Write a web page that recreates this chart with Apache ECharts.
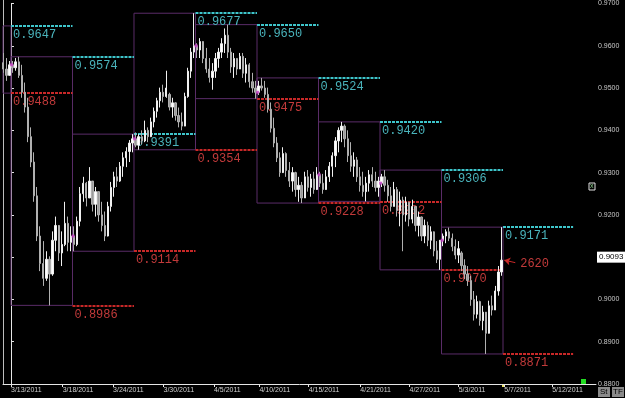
<!DOCTYPE html>
<html>
<head>
<meta charset="utf-8">
<script src="https://cdn.jsdelivr.net/npm/echarts@6/dist/echarts.min.js"></script>
<style>
  html, body { margin: 0; padding: 0; background: #000; }
  #chart { width: 625px; height: 398px; }
</style>
</head>
<body>
<div id="chart"></div>
<script>
// USD/CHF style weekly sessions, bars are [open, close, low, high]
// 20 bars a week; the first week is only partly on screen
const wk0306 = [
  [0.9545, 0.9560, 0.9527, 0.9569], [0.9560, 0.9545, 0.9536, 0.9583],
  [0.9545, 0.9530, 0.9517, 0.9571], [0.9530, 0.9555, 0.9531, 0.9564],
];
const wk0313 = [
  [0.9555, 0.9548, 0.9536, 0.9564], [0.9548, 0.9562, 0.9541, 0.9571],
  [0.9562, 0.9530, 0.9524, 0.9574], [0.9530, 0.9490, 0.9477, 0.9555],
  [0.9490, 0.9455, 0.9442, 0.9513], [0.9455, 0.9385, 0.9372, 0.9477],
  [0.9385, 0.9325, 0.9313, 0.9407], [0.9325, 0.9245, 0.9231, 0.9348],
  [0.9245, 0.9150, 0.9138, 0.9266], [0.9150, 0.9085, 0.9067, 0.9173],
  [0.9085, 0.9050, 0.9032, 0.9138], [0.9050, 0.9095, 0.9044, 0.9114],
  [0.9095, 0.9060, 0.8986, 0.9102], [0.9060, 0.9140, 0.9056, 0.9161],
  [0.9140, 0.9175, 0.9114, 0.9196], [0.9175, 0.9110, 0.9091, 0.9173],
  [0.9110, 0.9130, 0.9079, 0.9161], [0.9130, 0.9180, 0.9126, 0.9231],
  [0.9180, 0.9135, 0.9114, 0.9196], [0.9135, 0.9150, 0.9114, 0.9173],
];
const wk0320 = [
  [0.9150, 0.9130, 0.9114, 0.9173], [0.9130, 0.9185, 0.9126, 0.9196],
  [0.9185, 0.9250, 0.9173, 0.9266], [0.9250, 0.9275, 0.9231, 0.9290],
  [0.9275, 0.9240, 0.9220, 0.9278], [0.9240, 0.9280, 0.9243, 0.9313],
  [0.9280, 0.9225, 0.9208, 0.9278], [0.9225, 0.9255, 0.9196, 0.9266],
  [0.9255, 0.9200, 0.9184, 0.9255], [0.9200, 0.9175, 0.9161, 0.9231],
  [0.9175, 0.9150, 0.9138, 0.9208], [0.9150, 0.9220, 0.9149, 0.9231],
  [0.9220, 0.9265, 0.9208, 0.9278], [0.9265, 0.9290, 0.9243, 0.9302],
  [0.9290, 0.9280, 0.9266, 0.9313], [0.9280, 0.9315, 0.9278, 0.9325],
  [0.9315, 0.9335, 0.9290, 0.9348], [0.9335, 0.9350, 0.9313, 0.9360],
  [0.9350, 0.9370, 0.9325, 0.9377], [0.9370, 0.9380, 0.9348, 0.9391],
];
const wk0327 = [
  [0.9380, 0.9365, 0.9360, 0.9395], [0.9365, 0.9385, 0.9354, 0.9391],
  [0.9385, 0.9375, 0.9367, 0.9400], [0.9375, 0.9400, 0.9372, 0.9423],
  [0.9400, 0.9385, 0.9372, 0.9407], [0.9385, 0.9420, 0.9384, 0.9430],
  [0.9420, 0.9445, 0.9407, 0.9454], [0.9445, 0.9470, 0.9430, 0.9477],
  [0.9470, 0.9490, 0.9454, 0.9501], [0.9490, 0.9480, 0.9466, 0.9508],
  [0.9480, 0.9500, 0.9477, 0.9541], [0.9485, 0.9455, 0.9447, 0.9489],
  [0.9455, 0.9465, 0.9430, 0.9477], [0.9465, 0.9435, 0.9423, 0.9466],
  [0.9435, 0.9420, 0.9407, 0.9454], [0.9420, 0.9410, 0.9400, 0.9442],
  [0.9410, 0.9480, 0.9419, 0.9489], [0.9480, 0.9540, 0.9477, 0.9548],
  [0.9540, 0.9585, 0.9524, 0.9595], [0.9585, 0.9600, 0.9571, 0.9677],
];
const wk0403 = [
  [0.9600, 0.9590, 0.9571, 0.9606], [0.9590, 0.9610, 0.9571, 0.9618],
  [0.9610, 0.9570, 0.9559, 0.9606], [0.9570, 0.9545, 0.9536, 0.9595],
  [0.9545, 0.9525, 0.9513, 0.9571], [0.9525, 0.9540, 0.9496, 0.9559],
  [0.9540, 0.9570, 0.9524, 0.9583], [0.9570, 0.9585, 0.9548, 0.9595],
  [0.9585, 0.9605, 0.9571, 0.9618], [0.9605, 0.9625, 0.9583, 0.9641],
  [0.9625, 0.9585, 0.9571, 0.9650], [0.9585, 0.9550, 0.9536, 0.9595],
  [0.9550, 0.9570, 0.9524, 0.9583], [0.9570, 0.9545, 0.9531, 0.9571],
  [0.9545, 0.9575, 0.9548, 0.9583], [0.9575, 0.9535, 0.9524, 0.9583],
  [0.9535, 0.9555, 0.9513, 0.9571], [0.9555, 0.9515, 0.9501, 0.9559],
  [0.9515, 0.9500, 0.9489, 0.9536], [0.9500, 0.9490, 0.9475, 0.9517],
];
const wk0410 = [
  [0.9490, 0.9505, 0.9484, 0.9517], [0.9505, 0.9500, 0.9494, 0.9524],
  [0.9500, 0.9485, 0.9477, 0.9517], [0.9485, 0.9450, 0.9442, 0.9501],
  [0.9450, 0.9405, 0.9395, 0.9466], [0.9405, 0.9370, 0.9360, 0.9430],
  [0.9370, 0.9335, 0.9325, 0.9384], [0.9335, 0.9300, 0.9290, 0.9348],
  [0.9300, 0.9345, 0.9313, 0.9360], [0.9345, 0.9305, 0.9290, 0.9348],
  [0.9305, 0.9280, 0.9266, 0.9325], [0.9280, 0.9300, 0.9255, 0.9313],
  [0.9300, 0.9260, 0.9243, 0.9302], [0.9260, 0.9270, 0.9231, 0.9290],
  [0.9270, 0.9240, 0.9228, 0.9278], [0.9240, 0.9290, 0.9243, 0.9302],
  [0.9290, 0.9265, 0.9255, 0.9306], [0.9265, 0.9285, 0.9243, 0.9297],
  [0.9285, 0.9260, 0.9250, 0.9302], [0.9260, 0.9295, 0.9266, 0.9313],
];
const wk0417 = [
  [0.9295, 0.9275, 0.9266, 0.9302], [0.9275, 0.9260, 0.9250, 0.9297],
  [0.9260, 0.9290, 0.9259, 0.9306], [0.9290, 0.9315, 0.9278, 0.9325],
  [0.9315, 0.9340, 0.9290, 0.9348], [0.9340, 0.9375, 0.9313, 0.9384],
  [0.9375, 0.9400, 0.9348, 0.9407], [0.9400, 0.9410, 0.9372, 0.9420],
  [0.9410, 0.9380, 0.9360, 0.9414], [0.9380, 0.9340, 0.9325, 0.9400],
  [0.9340, 0.9315, 0.9302, 0.9372], [0.9315, 0.9330, 0.9290, 0.9348],
  [0.9330, 0.9290, 0.9278, 0.9337], [0.9290, 0.9270, 0.9255, 0.9313],
  [0.9270, 0.9255, 0.9243, 0.9302], [0.9255, 0.9275, 0.9232, 0.9290],
  [0.9275, 0.9295, 0.9255, 0.9306], [0.9295, 0.9280, 0.9266, 0.9313],
  [0.9280, 0.9265, 0.9255, 0.9302], [0.9265, 0.9280, 0.9243, 0.9290],
];
const wk0424 = [
  [0.9275, 0.9290, 0.9266, 0.9297], [0.9290, 0.9270, 0.9255, 0.9306],
  [0.9270, 0.9245, 0.9231, 0.9283], [0.9245, 0.9220, 0.9208, 0.9266],
  [0.9220, 0.9260, 0.9220, 0.9278], [0.9260, 0.9210, 0.9196, 0.9266],
  [0.9210, 0.9235, 0.9173, 0.9255], [0.9235, 0.9200, 0.9114, 0.9243],
  [0.9200, 0.9230, 0.9184, 0.9243], [0.9230, 0.9190, 0.9173, 0.9231],
  [0.9190, 0.9220, 0.9180, 0.9236], [0.9220, 0.9175, 0.9161, 0.9220],
  [0.9175, 0.9195, 0.9149, 0.9208], [0.9195, 0.9150, 0.9138, 0.9196],
  [0.9150, 0.9175, 0.9133, 0.9189], [0.9175, 0.9140, 0.9126, 0.9184],
  [0.9140, 0.9160, 0.9119, 0.9173], [0.9160, 0.9115, 0.9102, 0.9161],
  [0.9115, 0.9095, 0.9086, 0.9138], [0.9095, 0.9140, 0.9070, 0.9126],
];
const wk0501 = [
  [0.9140, 0.9150, 0.9126, 0.9156], [0.9150, 0.9160, 0.9133, 0.9166],
  [0.9160, 0.9145, 0.9138, 0.9170], [0.9145, 0.9125, 0.9114, 0.9156],
  [0.9125, 0.9105, 0.9095, 0.9142], [0.9105, 0.9120, 0.9086, 0.9138],
  [0.9110, 0.9080, 0.9067, 0.9114], [0.9080, 0.9060, 0.9048, 0.9095],
  [0.9060, 0.9045, 0.9032, 0.9079], [0.9045, 0.9000, 0.8985, 0.9056],
  [0.9000, 0.8965, 0.8950, 0.9020], [0.8965, 0.8995, 0.8955, 0.9009],
  [0.8995, 0.8950, 0.8938, 0.8997], [0.8950, 0.8970, 0.8927, 0.8985],
  [0.8970, 0.8920, 0.8871, 0.8962], [0.8920, 0.8985, 0.8927, 0.8997],
  [0.8985, 0.8975, 0.8962, 0.9009], [0.8975, 0.9020, 0.8985, 0.9032],
  [0.9020, 0.9065, 0.9009, 0.9079], [0.9065, 0.9093, 0.9056, 0.9171],
];

// weekly high / low boxes, one per week above
const weekHigh = [0.9647, 0.9574, 0.9391, 0.9677, 0.9650, 0.9524, 0.9420, 0.9306, 0.9171];
const weekLow = [0.9488, 0.8986, 0.9114, 0.9354, 0.9475, 0.9228, 0.9232, 0.9070, 0.8871];
// levels of the week before the first one (only a stub is visible)
const priorHigh = 0.9590;
const priorLow = 0.9497;

// x is counted in trading days, 0 = open of 3/13/2011
const tickAt = [0, 4.2, 8.3, 12.4, 16.5, 20.2, 24.2, 28.4, 32.4, 36.4, 40.1, 44.0];
const tickLabels = ['3/13/2011', '3/18/2011', '3/24/2011', '3/30/2011', '4/5/2011', '4/10/2011',
  '4/15/2011', '4/21/2011', '4/27/2011', '5/3/2011', '5/7/2011', '5/12/2011'];

const lastClose = 0.9093;
const arrowNote = '2620';

const weeks = [wk0306, wk0313, wk0320, wk0327, wk0403, wk0410, wk0417, wk0424, wk0501];
const BARS = 20;
const DAYS = 5;

const candles = [];
const opens = [];
weeks.forEach((bars, w) => {
  const first = BARS - bars.length;
  bars.forEach((b, i) => {
    const x = (w - 1) * DAYS + (first + i + 0.5) * (DAYS / BARS);
    candles.push([x, b[0], b[1], b[2], b[3]]);
  });
  if (w > 0) opens.push([(w - 1) * DAYS + 0.05, bars[0][0]]);
});

const CYAN = '#3ec6cc';
const CYAN_TXT = '#4ab4bc';
const RED = '#c82828';
const RED_TXT = '#c23a3a';
const BOX = '#5a2c68';

const boxes = weeks.map((_, w) => [
  { coord: [(w - 1) * DAYS, weekHigh[w]] },
  { coord: [w * DAYS, weekLow[w]] },
]);

function level(x0, x1, v, color, txt, showLabel) {
  return [
    {
      name: v.toFixed(4),
      coord: [x0, v],
      lineStyle: { color, width: 2, type: [3, 1] },
      label: { show: showLabel, color: txt },
    },
    { coord: [x1, v] },
  ];
}

const levels = [
  level(-DAYS, 0, priorHigh, CYAN, CYAN_TXT, false),
  level(-DAYS, 0, priorLow, RED, RED_TXT, false),
];
weeks.forEach((_, w) => {
  const x0 = w * DAYS;
  const x1 = w === weeks.length - 1 ? x0 + 5.7 : x0 + DAYS;
  levels.push(level(x0, x1, weekHigh[w], CYAN, CYAN_TXT, true));
  levels.push(level(x0, x1, weekLow[w], RED, RED_TXT, true));
});

const chart = echarts.init(document.getElementById('chart'));

const option = {
  backgroundColor: '#000',
  animation: false,
  grid: { left: 3, right: 29, top: 0, bottom: 14 },
  xAxis: {
    type: 'value',
    min: -0.65,
    max: 47.56,
    splitLine: { show: false },
    axisLine: { lineStyle: { color: '#e6e6e6', width: 1 } },
    axisTick: { customValues: tickAt, length: 3, lineStyle: { color: '#e6e6e6' } },
    axisLabel: {
      customValues: tickAt,
      formatter: (v) => tickLabels[tickAt.indexOf(v)] || '',
      color: '#d0d0d0',
      fontSize: 7,
      fontFamily: 'Liberation Sans',
      align: 'left',
      margin: 3,
    },
  },
  yAxis: {
    type: 'value',
    position: 'right',
    min: 0.88,
    max: 0.97,
    interval: 0.01,
    splitLine: { show: false },
    axisLine: { show: true, lineStyle: { color: '#e6e6e6', width: 1 } },
    axisTick: { show: true, length: 3, lineStyle: { color: '#e6e6e6' } },
    axisLabel: {
      formatter: (v) => v.toFixed(4),
      color: '#c8c8c8',
      fontSize: 7,
      fontFamily: 'Liberation Sans',
      margin: 2,
    },
  },
  series: [
    {
      name: 'levels',
      type: 'line',
      data: [],
      z: 1,
      markArea: {
        silent: true,
        z: 1,
        itemStyle: { color: 'rgba(0,0,0,0)', borderColor: BOX, borderWidth: 1 },
        data: boxes,
      },
      markLine: {
        silent: true,
        z: 1,
        symbol: ['none', 'none'],
        label: {
          position: 'insideStartBottom',
          formatter: '{b}',
          fontFamily: 'Liberation Mono',
          fontSize: 12,
          distance: [2, 3],
        },
        data: levels,
      },
    },
    {
      name: 'price',
      type: 'candlestick',
      z: 3,
      barMaxWidth: 2,
      encode: { x: 0, y: [1, 2, 3, 4] },
      itemStyle: {
        color: '#ffffff',
        color0: '#9a9a9a',
        borderColor: '#f0f0f0',
        borderColor0: '#b0b0b0',
        borderWidth: 1,
      },
      data: candles,
    },
    {
      name: 'week open',
      type: 'scatter',
      z: 4,
      symbol: 'rect',
      symbolSize: 3,
      itemStyle: { color: '#c43cc4' },
      data: opens,
    },
    {
      name: 'last',
      type: 'line',
      data: [],
      z: 5,
      markLine: {
        silent: true,
        z: 6,
        symbol: ['none', 'none'],
        data: [
          {
            yAxis: lastClose,
            lineStyle: { color: 'rgba(0,0,0,0)', width: 1, type: 'solid' },
            label: {
              show: true,
              position: 'end',
              formatter: lastClose.toFixed(4),
              backgroundColor: '#ffffff',
              color: '#000000',
              fontSize: 8,
              fontFamily: 'Liberation Sans',
              padding: [2, 2, 1, 2],
              distance: 1,
            },
          },
          [
            {
              name: arrowNote,
              coord: [41.0, 0.9087],
              symbol: 'none',
              lineStyle: { color: RED, width: 1, type: 'solid' },
              label: {
                position: 'start',
                formatter: '{b}',
                color: RED_TXT,
                fontFamily: 'Liberation Mono',
                fontSize: 12,
                distance: 5,
              },
            },
            { coord: [40.1, lastClose], symbol: 'arrow', symbolSize: 6 },
          ],
        ],
      },
    },
  ],
  graphic: [
    { type: 'line', shape: { x1: 3.5, y1: 0, x2: 3.5, y2: 384 }, style: { stroke: '#bdbdbd', lineWidth: 1 } },
    { type: 'rect', shape: { x: 589, y: 183, width: 6, height: 7 }, style: { fill: '#000', stroke: '#e0e0e0', lineWidth: 1 } },
    { type: 'text', x: 590, y: 183, style: { text: 'x', fill: '#8fd08f', fontSize: 7, fontFamily: 'Liberation Sans' } },
    { type: 'rect', shape: { x: 581, y: 379, width: 5, height: 5 }, style: { fill: '#22dd22' } },
    { type: 'rect', shape: { x: 502, y: 384, width: 3, height: 3 }, style: { fill: '#e8e060' } },
    { type: 'rect', shape: { x: 598, y: 387, width: 12, height: 10 }, style: { fill: '#8a8a8a' } },
    { type: 'text', x: 600, y: 388, style: { text: 'St', fill: '#000', fontSize: 8, fontFamily: 'Liberation Sans' } },
    { type: 'rect', shape: { x: 612, y: 387, width: 12, height: 10 }, style: { fill: '#8a8a8a' } },
    { type: 'text', x: 613, y: 388, style: { text: 'TF', fill: '#000', fontSize: 8, fontFamily: 'Liberation Sans' } },
  ],
};

chart.setOption(option);
</script>
</body>
</html>
